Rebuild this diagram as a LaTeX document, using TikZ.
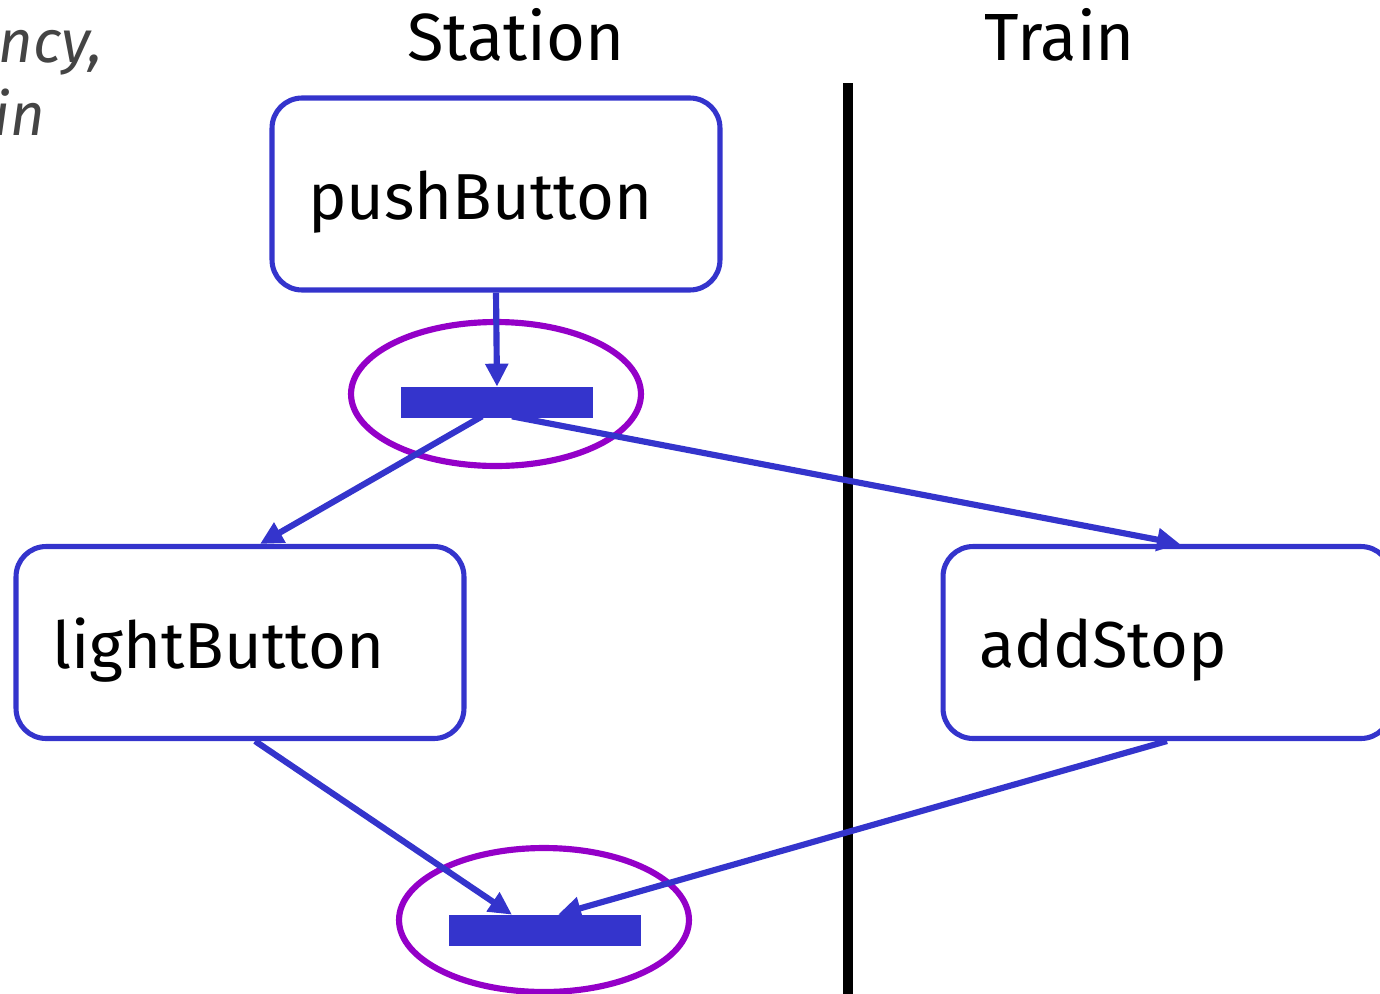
\documentclass[tikz,border=0pt]{standalone}
\usepackage{fontspec}
\setmainfont{Fira Sans}
\usetikzlibrary{arrows.meta,shapes.geometric,calc}
\definecolor{flowblue}{HTML}{3434CC}
\definecolor{joinpurple}{HTML}{9400C8}
\definecolor{notegray}{HTML}{444444}
\newcommand{\boxlabel}[1]{\raisebox{-4.5pt}[\height][\depth]{#1}}
\tikzset{
  actbox/.style={draw=flowblue, line width=2.9pt, rounded corners=0.6cm,
    minimum width=8.96cm, minimum height=3.84cm, text width=7.52cm,
    inner xsep=0.72cm, align=left, font=\fontsize{37}{42}\selectfont},
  syncbar/.style={fill=flowblue, draw=none, minimum width=3.84cm,
    minimum height=0.62cm, inner sep=0pt},
  joinring/.style={ellipse, draw=joinpurple, line width=3.5pt,
    minimum width=5.8cm, minimum height=2.88cm, inner sep=0pt},
  flow/.style={draw=flowblue, line width=3.5pt,
    -{Triangle[length=0.46cm, width=0.44cm]}},
  lanehead/.style={font=\fontsize{38}{42}\selectfont},
  note/.style={text=notegray, font=\fontsize{34}{40}\selectfont\itshape,
    anchor=base east, inner sep=0pt}
}
\begin{document}
\begin{tikzpicture}[x=0.02cm, y=-0.02cm]
  \useasboundingbox (0,0) rectangle (1380,994);
  \clip (0,0) rectangle (1380,994);

  % margin note, running off the left edge
  \node[note] (noteA) at (103,62) {ncy,};
  \node[note] (noteB) at (45,135) {in};

  % swimlane headers and divider
  \node[lanehead] (station) at (516,35) {Station};
  \node[lanehead] (train) at (1060,35) {Train};
  \coordinate (divtop) at (848,83);
  \coordinate (divbot) at (848,994);
  \draw[line width=5.8pt] (divtop) -- (divbot);

  % activities
  \node[actbox] (push) at (496,194) {\boxlabel{pushButton}};
  \node[actbox] (light) at (240,642.5) {\boxlabel{lightButton}};
  \node[actbox] (add) at (1167,642.5) {\boxlabel{addStop}};

  % fork and join bars with their highlight rings
  \node[joinring] (ringA) at (496,394) {};
  \node[syncbar] (fork) at (497,402.5) {};
  \node[joinring] (ringB) at (544,920) {};
  \node[syncbar] (join) at (545,930.5) {};

  % control flow
  \draw[flow] (push.south) -- (fork.north);
  \draw[flow] ($(fork.south)+(-15,-2)$) -- ($(light.north)+(20,0)$);
  \draw[flow] ($(fork.south)+(15,-2)$) -- ($(add.north)+(13,0)$);
  \draw[flow] ($(light.south)+(15,0)$) -- ($(join.north)+(-33,0)$);
  \draw[flow] (add.south) -- ($(join.north)+(13,0)$);
\end{tikzpicture}
\end{document}
